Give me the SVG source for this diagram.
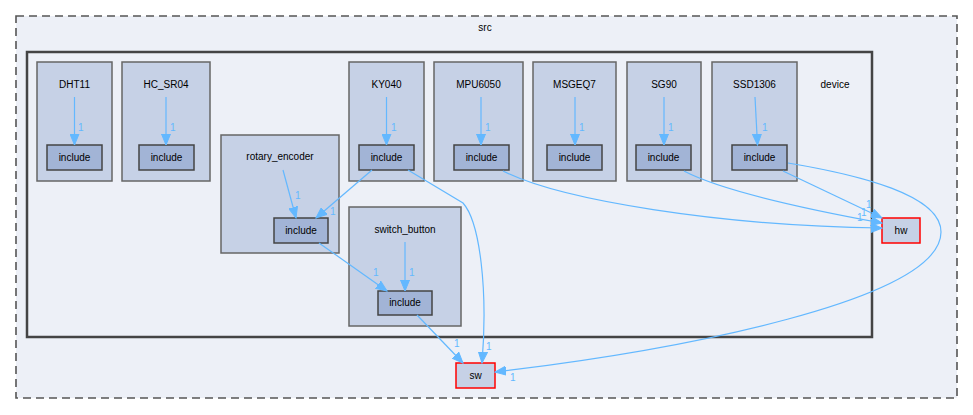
<svg xmlns="http://www.w3.org/2000/svg" width="973" height="415" viewBox="0 0 973 415">
<defs>
<marker id="ah" markerWidth="12" markerHeight="10" refX="11" refY="5" orient="auto" markerUnits="userSpaceOnUse">
<path d="M0,0.5 L11,5 L0,9.5 Z" fill="#63b8ff" stroke="#63b8ff"/>
</marker>
</defs>
<style>
text{font-family:"Liberation Sans",Arial,sans-serif;font-size:10px;fill:#000;}
.mid{text-anchor:middle;}
.cl{fill:#c6d1e6;stroke:#666;stroke-width:1.5;}
.inc{fill:#a2b4d6;stroke:#444;stroke-width:1.5;}
.ext{fill:#c6d1e6;stroke:#ff0000;stroke-width:1.5;}
.e{fill:none;stroke:#63b8ff;stroke-width:1.2;marker-end:url(#ah);}
.lbl{fill:#63b8ff;font-size:10px;}
</style>
<rect width="973" height="415" fill="#ffffff"/>
<g id="cluster_src">
<rect x="16" y="16" width="941" height="382" fill="#edf0f7" stroke="#555" stroke-width="1.6" stroke-dasharray="8,5"/>
<text class="mid" x="485" y="31">src</text>
</g>
<g id="cluster_device">
<rect x="27" y="52" width="845" height="285" fill="#edf0f7" stroke="#444" stroke-width="2.5"/>
<text class="mid" x="835" y="88">device</text>
</g>
<g id="cluster_DHT11">
<rect class="cl" x="37" y="62" width="75" height="119"/>
<text class="mid" x="74.5" y="88">DHT11</text>
</g>
<g id="node_DHT11_include">
<rect class="inc" x="47" y="145" width="55" height="25"/>
<text class="mid" x="74.5" y="161">include</text>
</g>
<g id="cluster_HC_SR04">
<rect class="cl" x="122" y="62" width="88" height="119"/>
<text class="mid" x="166" y="88">HC_SR04</text>
</g>
<g id="node_HC_SR04_include">
<rect class="inc" x="139" y="145" width="55" height="25"/>
<text class="mid" x="166.5" y="161">include</text>
</g>
<g id="cluster_rotary_encoder">
<rect class="cl" x="221" y="135" width="118" height="118"/>
<text class="mid" x="280" y="160">rotary_encoder</text>
</g>
<g id="node_rotary_include">
<rect class="inc" x="274" y="218" width="54" height="25"/>
<text class="mid" x="301" y="234">include</text>
</g>
<g id="cluster_KY040">
<rect class="cl" x="349" y="62" width="75" height="119"/>
<text class="mid" x="386.5" y="88">KY040</text>
</g>
<g id="node_KY040_include">
<rect class="inc" x="359" y="145" width="55" height="25"/>
<text class="mid" x="386.5" y="161">include</text>
</g>
<g id="cluster_MPU6050">
<rect class="cl" x="434" y="62" width="89" height="119"/>
<text class="mid" x="478.5" y="88">MPU6050</text>
</g>
<g id="node_MPU6050_include">
<rect class="inc" x="454" y="145" width="55" height="25"/>
<text class="mid" x="481.5" y="161">include</text>
</g>
<g id="cluster_MSGEQ7">
<rect class="cl" x="533" y="62" width="83" height="119"/>
<text class="mid" x="574.5" y="88">MSGEQ7</text>
</g>
<g id="node_MSGEQ7_include">
<rect class="inc" x="547" y="145" width="55" height="25"/>
<text class="mid" x="574.5" y="161">include</text>
</g>
<g id="cluster_SG90">
<rect class="cl" x="627" y="62" width="74" height="119"/>
<text class="mid" x="664" y="88">SG90</text>
</g>
<g id="node_SG90_include">
<rect class="inc" x="636" y="145" width="55" height="25"/>
<text class="mid" x="663.5" y="161">include</text>
</g>
<g id="cluster_SSD1306">
<rect class="cl" x="712" y="62" width="85" height="119"/>
<text class="mid" x="754.5" y="88">SSD1306</text>
</g>
<g id="node_SSD1306_include">
<rect class="inc" x="732" y="145" width="55" height="25"/>
<text class="mid" x="759.5" y="161">include</text>
</g>
<g id="cluster_switch_button">
<rect class="cl" x="349" y="207" width="112" height="119"/>
<text class="mid" x="405" y="233">switch_button</text>
</g>
<g id="node_switch_include">
<rect class="inc" x="378" y="291" width="54" height="24"/>
<text class="mid" x="405" y="306">include</text>
</g>
<g id="node_hw">
<rect class="ext" x="882" y="218" width="38" height="25"/>
<text class="mid" x="901" y="234">hw</text>
</g>
<g id="node_sw">
<rect class="ext" x="456" y="363" width="39" height="25"/>
<text class="mid" x="475.5" y="379">sw</text>
</g>
<g id="edges">
<path class="e" d="M74.5,97 L74.5,145"/>
<text class="lbl" x="78" y="131">1</text>
<path class="e" d="M166,97 L166,145"/>
<text class="lbl" x="170" y="131">1</text>
<path class="e" d="M386.5,97 L386.5,145"/>
<text class="lbl" x="391" y="131">1</text>
<path class="e" d="M481,97 L481,145"/>
<text class="lbl" x="485" y="131">1</text>
<path class="e" d="M575,97 L575,145"/>
<text class="lbl" x="579" y="131">1</text>
<path class="e" d="M664,97 L664,145"/>
<text class="lbl" x="668" y="131">1</text>
<path class="e" d="M755,97 L757.5,145"/>
<text class="lbl" x="762" y="131">1</text>
<path class="e" d="M283,170 L296,218"/>
<text class="lbl" x="295" y="199">1</text>
<path class="e" d="M372,170 L316,218"/>
<text class="lbl" x="330" y="215">1</text>
<path class="e" d="M408,170 L463,203 C480,222 488,290 482,363"/>
<text class="lbl" x="486" y="350">1</text>
<path class="e" d="M405,242 L405,291"/>
<text class="lbl" x="409" y="276">1</text>
<path class="e" d="M319,243 L387,291"/>
<text class="lbl" x="373" y="276">1</text>
<path class="e" d="M417,315 L463,363"/>
<text class="lbl" x="454" y="347">1</text>
<path class="e" d="M788,163 C860,175 941,195 941,232 C941,300 680,350 495,372"/>
<text class="lbl" x="510" y="381">1</text>
<path class="e" d="M503,171 C560,200 720,226 882,228"/>
<text class="lbl" x="857" y="221">1</text>
<path class="e" d="M684,171 C720,190 800,208 882,223"/>
<text class="lbl" x="861" y="216">1</text>
<path class="e" d="M783,171 L882,218"/>
<text class="lbl" x="866" y="208">1</text>
</g>
</svg>
